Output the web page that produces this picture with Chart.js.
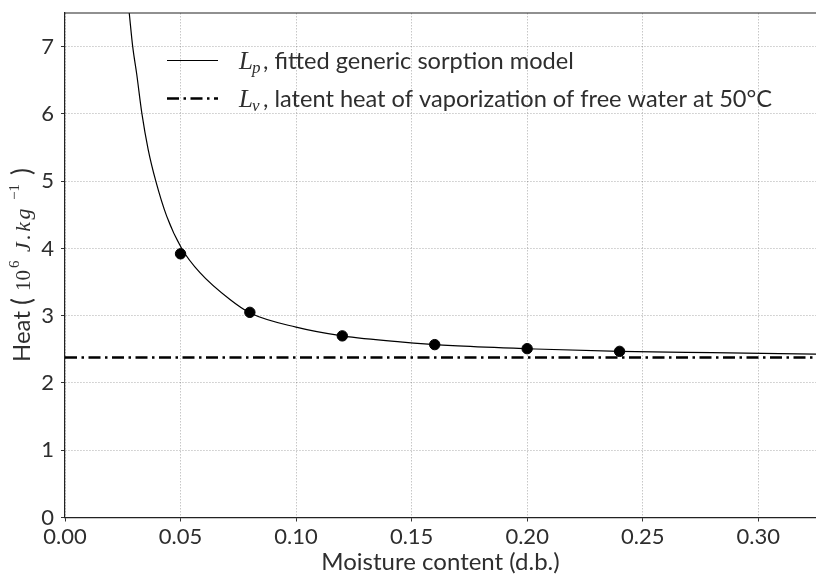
<!DOCTYPE html>
<html>
<head>
<meta charset="utf-8">
<script src="https://cdn.jsdelivr.net/npm/chart.js@4/dist/chart.umd.min.js"></script>
<style>
html,body{margin:0;padding:0;background:#fff;}
#wrap{width:816px;height:577px;position:relative;}
</style>
</head>
<body>
<div id="wrap"><canvas id="c"></canvas></div>
<script>
// Measured sorption-heat points
const moistureX = [0.05, 0.08, 0.12, 0.16, 0.20, 0.24];
const heatY = [3.92, 3.05, 2.70, 2.57, 2.51, 2.47];
// Fitted curve Lp
const curveX = [0.0278, 0.0293, 0.0310, 0.0333, 0.0360, 0.0393, 0.0440, 0.0505, 0.0584, 0.0714, 0.0801, 0.100, 0.120, 0.145, 0.170, 0.2035, 0.240, 0.280, 0.325];
const curveY = [7.50, 7.00, 6.60, 6.00, 5.47, 5.00, 4.48, 4.00, 3.64, 3.24, 3.04, 2.83, 2.70, 2.61, 2.55, 2.505, 2.47, 2.45, 2.43];
// Latent heat of vaporization of free water at 50 °C
const lvX = [0, 0.325];
const lvValue = 2.38;
const xTicks = [0, 0.05, 0.10, 0.15, 0.20, 0.25, 0.30];
const yTicks = [0, 1, 2, 3, 4, 5, 6, 7];
const xTitle = 'Moisture content (d.b.)';
const yTitleParts = ['Heat', '(', '10', '6', 'J.kg', '−1', ')'];

const FONT = "Lato";
const SERIF = "'Liberation Serif'";
const TXT = "#2e2e2e";
const DASHDOT = [12, 4.5, 2.5, 4.5];

const legendPlugin = {
  id: 'mathLegend',
  afterDatasetsDraw(chart) {
    const ctx = chart.ctx;
    const rows = [
      {y: 60.5, dash: [], width: 1.2, sym: 'L', sub: 'p', text: ', fitted generic sorption model'},
      {y: 98.5, dash: DASHDOT, width: 2.5, sym: 'L', sub: 'v', text: ', latent heat of vaporization of free water at 50°C'}
    ];
    ctx.save();
    rows.forEach(r => {
      ctx.beginPath();
      ctx.setLineDash(r.dash);
      ctx.lineWidth = r.width;
      ctx.strokeStyle = '#000';
      ctx.moveTo(167, r.y);
      ctx.lineTo(218, r.y);
      ctx.stroke();
      ctx.setLineDash([]);
      ctx.fillStyle = TXT;
      ctx.textBaseline = 'alphabetic';
      const base = r.y + 8;
      ctx.font = "italic 25px " + SERIF;
      ctx.fillText(r.sym, 239, base);
      const w = ctx.measureText(r.sym).width;
      ctx.font = "italic 17px " + SERIF;
      ctx.fillText(r.sub, 239 + w - 1, base + 4);
      ctx.font = "23.6px " + FONT;
      ctx.fillText(r.text, 263, base);
    });
    ctx.restore();
  }
};

const yTitlePlugin = {
  id: 'yTitleMath',
  afterDraw(chart) {
    const ctx = chart.ctx;
    const p = yTitleParts;
    ctx.save();
    ctx.translate(30, 362);
    ctx.rotate(-Math.PI / 2);
    ctx.fillStyle = TXT;
    ctx.textBaseline = 'alphabetic';
    ctx.textAlign = 'left';
    ctx.font = "24px " + FONT;
    ctx.fillText(p[0], 0, 0);
    ctx.font = "26px " + FONT;
    ctx.fillText(p[1], 57, 1);
    ctx.font = "21px " + SERIF;
    ctx.fillText(p[2], 71, 0);
    ctx.font = "15px " + SERIF;
    ctx.fillText(p[3], 94, -11);
    ctx.font = "italic 22px " + SERIF;
    ctx.letterSpacing = '2.5px';
    ctx.fillText(p[4], 110, 0);
    ctx.letterSpacing = '0px';
    ctx.font = "15px " + SERIF;
    ctx.fillText(p[5], 162, -11);
    ctx.font = "26px " + FONT;
    ctx.fillText(p[6], 187, 1);
    ctx.restore();
  }
};

const frameTop = {
  id: 'frameTop',
  afterDraw(chart) {
    const a = chart.chartArea, ctx = chart.ctx;
    ctx.save();
    ctx.strokeStyle = '#222';
    ctx.lineWidth = 1.2;
    ctx.beginPath();
    ctx.moveTo(a.left, a.top);
    ctx.lineTo(a.right, a.top);
    ctx.stroke();
    ctx.restore();
  }
};

new Chart(document.getElementById('c'), {
  type: 'scatter',
  data: {
    datasets: [
      {
        type: 'line',
        label: 'Lp, fitted generic sorption model',
        data: curveX.map((x, i) => ({x, y: curveY[i]})),
        borderColor: '#000',
        borderWidth: 1.2,
        pointRadius: 0,
        cubicInterpolationMode: 'monotone',
        fill: false,
        order: 2
      },
      {
        type: 'line',
        label: 'Lv, latent heat of vaporization of free water at 50°C',
        data: lvX.map(x => ({x, y: lvValue})),
        borderColor: '#000',
        borderWidth: 2.5,
        borderDash: DASHDOT,
        pointRadius: 0,
        fill: false,
        order: 3
      },
      {
        type: 'scatter',
        label: 'data',
        data: moistureX.map((x, i) => ({x, y: heatY[i]})),
        backgroundColor: '#000',
        borderColor: '#000',
        pointRadius: 5.2,
        order: 1
      }
    ]
  },
  options: {
    responsive: true,
    maintainAspectRatio: false,
    animation: false,
    layout: {autoPadding: false, padding: {top: 13, right: 0, left: 0, bottom: 0}},
    plugins: {legend: {display: false}, tooltip: {enabled: false}},
    scales: {
      x: {
        type: 'linear',
        min: 0, max: 0.325,
        afterBuildTicks: s => { s.ticks = xTicks.map(v => ({value: v})); },
        afterFit: s => { s.height = 59.5; s.paddingLeft = 0; s.paddingRight = 0; },
        ticks: {
          color: TXT,
          font: {family: FONT, size: 22},
          padding: 2,
          maxRotation: 0,
          callback: v => Number(v).toFixed(2)
        },
        grid: {color: 'rgba(0,0,0,0.22)', lineWidth: 1, tickLength: 4, tickColor: '#333', tickWidth: 1},
        border: {display: true, color: '#222', width: 1.2, dash: [1.5, 1.5]},
        title: {display: true, text: xTitle, color: TXT, font: {family: FONT, size: 24}, padding: {top: 0, bottom: 0}}
      },
      y: {
        type: 'linear',
        min: 0, max: 7.5,
        afterBuildTicks: s => { s.ticks = yTicks.map(v => ({value: v})); },
        afterFit: s => { s.width = 65; s.paddingTop = 0; s.paddingBottom = 0; },
        ticks: {
          color: TXT,
          font: {family: FONT, size: 22},
          padding: 7,
          callback: v => String(v)
        },
        grid: {color: 'rgba(0,0,0,0.22)', lineWidth: 1, tickLength: 4, tickColor: '#333', tickWidth: 1},
        border: {display: true, color: '#222', width: 1.2, dash: [1.5, 1.5]},
        title: {display: false, text: 'Heat (10⁶ J.kg⁻¹)'}
      }
    }
  },
  plugins: [legendPlugin, yTitlePlugin, frameTop]
});
</script>
</body>
</html>
